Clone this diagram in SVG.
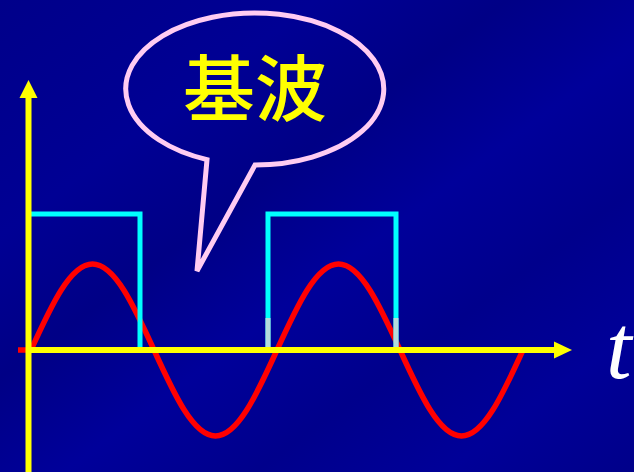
<svg xmlns="http://www.w3.org/2000/svg" width="634" height="472" viewBox="0 0 634 472">
  <defs>
    <linearGradient id="bg" x1="0" y1="0" x2="1" y2="1">
      <stop offset="0" stop-color="#00008a"/>
      <stop offset="0.25" stop-color="#000094"/>
      <stop offset="0.4" stop-color="#000086"/>
      <stop offset="0.55" stop-color="#00009a"/>
      <stop offset="0.7" stop-color="#00008c"/>
      <stop offset="0.85" stop-color="#000098"/>
      <stop offset="1" stop-color="#00008a"/>
    </linearGradient>
    <style>
      .axis { stroke: #ffff00; stroke-width: 6; fill: none; }
      .head { fill: #ffff00; }
      .sq { stroke: #00ffff; stroke-width: 5; fill: none; }
      .sqlow { stroke: #b4dcdc; stroke-width: 5; fill: none; }
      .sine { stroke: #ff0000; stroke-width: 5.5; fill: none; stroke-linejoin: round; }
      .bubble { stroke: #ffccf2; stroke-width: 5; fill: none; stroke-linejoin: miter; }
      .cjk { font-family: "Noto Sans CJK SC", "Noto Sans CJK JP", sans-serif; font-size: 72px; font-weight: 500; fill: #ffff00; }
      .tlabel { font-family: "Liberation Serif", "Times New Roman", serif; font-style: italic; font-size: 92px; fill: #ffffff; }
    </style>
  </defs>
  <rect id="background" x="0" y="0" width="634" height="472" fill="url(#bg)"/>

  <g id="waves">
    <path id="fundamental" class="sine" d="M18,350 L31,350 C51.06,305.94 70.24,264 92.5,264 C114.76,264 133.94,305.94 154,350 C174.06,394.06 193.24,436 215.5,436 C237.76,436 256.94,394.06 277,350 C297.06,305.94 316.24,264 338.5,264 C360.76,264 379.94,305.94 400,350 C420.06,394.06 439.24,436 461.5,436 C483.76,436 502.94,394.06 523,350"/>
    <g id="square-wave">
      <polyline class="sq" points="28,214 140,214 140,350"/>
      <polyline class="sq" points="268,350 268,214 396,214 396,350"/>
      <line class="sqlow" x1="268" y1="318" x2="268" y2="350"/>
      <line class="sqlow" x1="396" y1="318" x2="396" y2="350"/>
    </g>
  </g>

  <g id="axes">
    <line id="y-axis" class="axis" x1="28.5" y1="96" x2="28.5" y2="472"/>
    <polygon class="head" points="28.5,80 19.5,98 37.5,98"/>
    <line id="x-axis" class="axis" x1="28" y1="350" x2="556" y2="350"/>
    <polygon class="head" points="572,350 554,341.5 554,358.5"/>
  </g>

  <g id="bubble">
    <path class="bubble" d="M255,165 A129,76 0 1 0 207,159.6 L197,271 Z"/>
    <text class="cjk" x="255" y="115" text-anchor="middle">基波</text>
  </g>

  <g id="t-label">
    <text class="tlabel" x="606" y="378">t</text>
  </g>
</svg>
